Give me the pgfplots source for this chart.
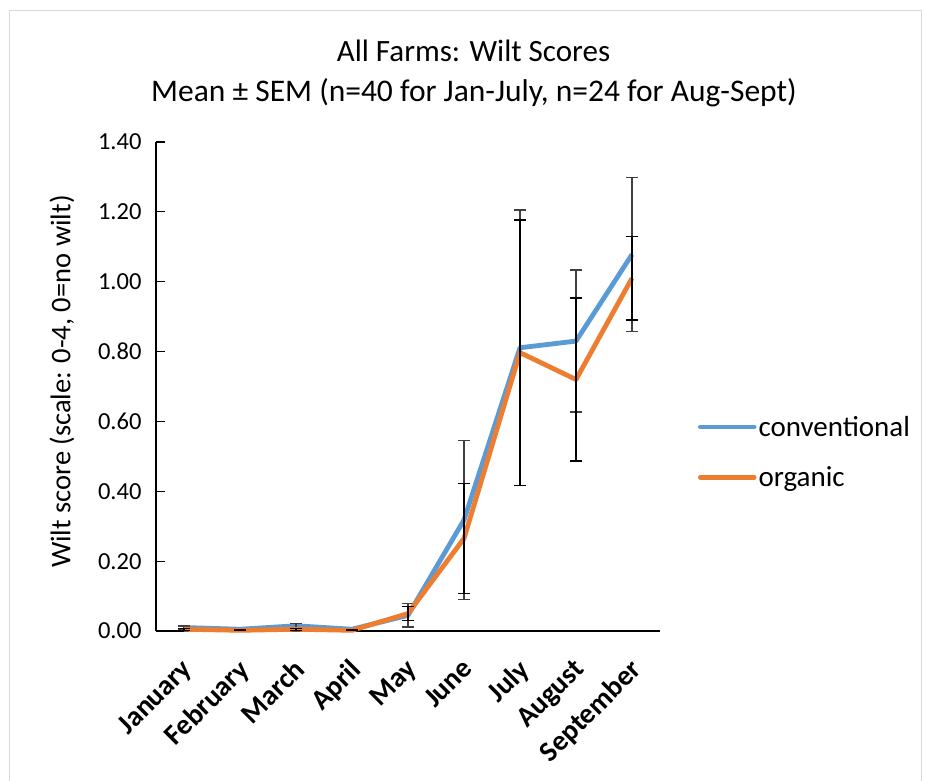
\documentclass[border=0pt]{standalone}
\usepackage{fontspec}
\setmainfont{Carlito}
\usepackage{pgfplots}
\pgfplotsset{compat=1.18}
\usepackage{pgfplotstable}
\definecolor{convblue}{HTML}{5B9BD5}
\definecolor{orgorange}{HTML}{ED7D31}
\definecolor{errgray}{HTML}{404040}
\pgfplotstableread{
x y e
0 0.010 0.004
1 0.005 0.002
2 0.015 0.006
3 0.005 0.002
4 0.045 0.033
5 0.318 0.228
6 0.811 0.394
7 0.830 0.203
8 1.078 0.221
}\conv
\pgfplotstableread{
x y e
0 0.005 0.003
1 0.002 0.001
2 0.005 0.003
3 0.002 0.001
4 0.050 0.020
5 0.265 0.158
6 0.797 0.380
7 0.720 0.233
8 1.010 0.120
}\org
\begin{document}
\begin{tikzpicture}[x=1pt,y=1pt]
\useasboundingbox (0,0) rectangle (925,780);
\fill[white] (0,0) rectangle (925,780);
\draw[black!15, line width=1pt] (9,-5) -- (9,769) -- (921,769) -- (921,-5);
\node[anchor=base, inner sep=0pt, font=\fontsize{31}{36}\selectfont] at (473.5,718) {All Farms: Wilt Scores};
\node[anchor=base, inner sep=0pt, font=\fontsize{31.5}{37}\selectfont] at (474,678) {Mean ± SEM (n=40 for Jan-July, n=24 for Aug-Sept)};
\begin{axis}[
  at={(156pt,149pt)}, anchor=south west,
  scale only axis, width=504pt, height=489pt,
  xmin=-0.5, xmax=8.5, ymin=0, ymax=1.4,
  axis lines=left, axis line style={-, black, line width=1.2pt},
  xtick={0,1,2,3,4,5,6,7,8},
  xticklabels={January,February,March,April,May,June,July,August,September},
  x tick style={draw=none},
  ytick={0,0.2,0.4,0.6,0.8,1.0,1.2,1.4},
  y tick style={black, line width=1.2pt},
  major tick length=9pt,
  tick align=inside,
  yticklabel style={/pgf/number format/.cd, fixed, fixed zerofill, precision=2, /tikz/.cd, font=\fontsize{24.5}{29}\selectfont, xshift=-11pt},
  /pgf/number format/assume math mode=true,
  xticklabel style={rotate=45, anchor=north east, font=\bfseries\fontsize{28.5}{33}\selectfont, inner sep=0pt, xshift=-21pt, yshift=-16pt},
  ylabel={Wilt score (scale: 0-4, 0=no wilt)},
  ylabel style={font=\fontsize{28.5}{34}\selectfont, at={(axis description cs:-0.1865,0.51)}, anchor=center},
  legend style={draw=none, fill=none, at={(1.075,0.366)}, anchor=west, font=\fontsize{29}{34}\selectfont, row sep=25pt, inner sep=0pt, nodes={inner sep=2pt}},
  legend cell align=left,
  legend image code/.code={\draw[#1, line width=4.5pt, line cap=round] (0,0) -- (54pt,0);},
  clip=false,
]
\addplot[convblue, line width=4.8pt, line join=round, no markers,
  error bars/.cd, y dir=both, y explicit,
  error bar style={errgray, line width=1.4pt},
  error mark options={rotate=90, errgray, mark size=6pt, line width=1.4pt}]
  table[x=x, y=y, y error=e] {\conv};
\addlegendentry{conventional}
\addplot[orgorange, line width=4.8pt, line join=round, no markers,
  error bars/.cd, y dir=both, y explicit,
  error bar style={black, line width=1.4pt},
  error mark options={rotate=90, black, mark size=6pt, line width=1.4pt}]
  table[x=x, y=y, y error=e] {\org};
\addlegendentry{organic}
\end{axis}
\end{tikzpicture}
\end{document}
